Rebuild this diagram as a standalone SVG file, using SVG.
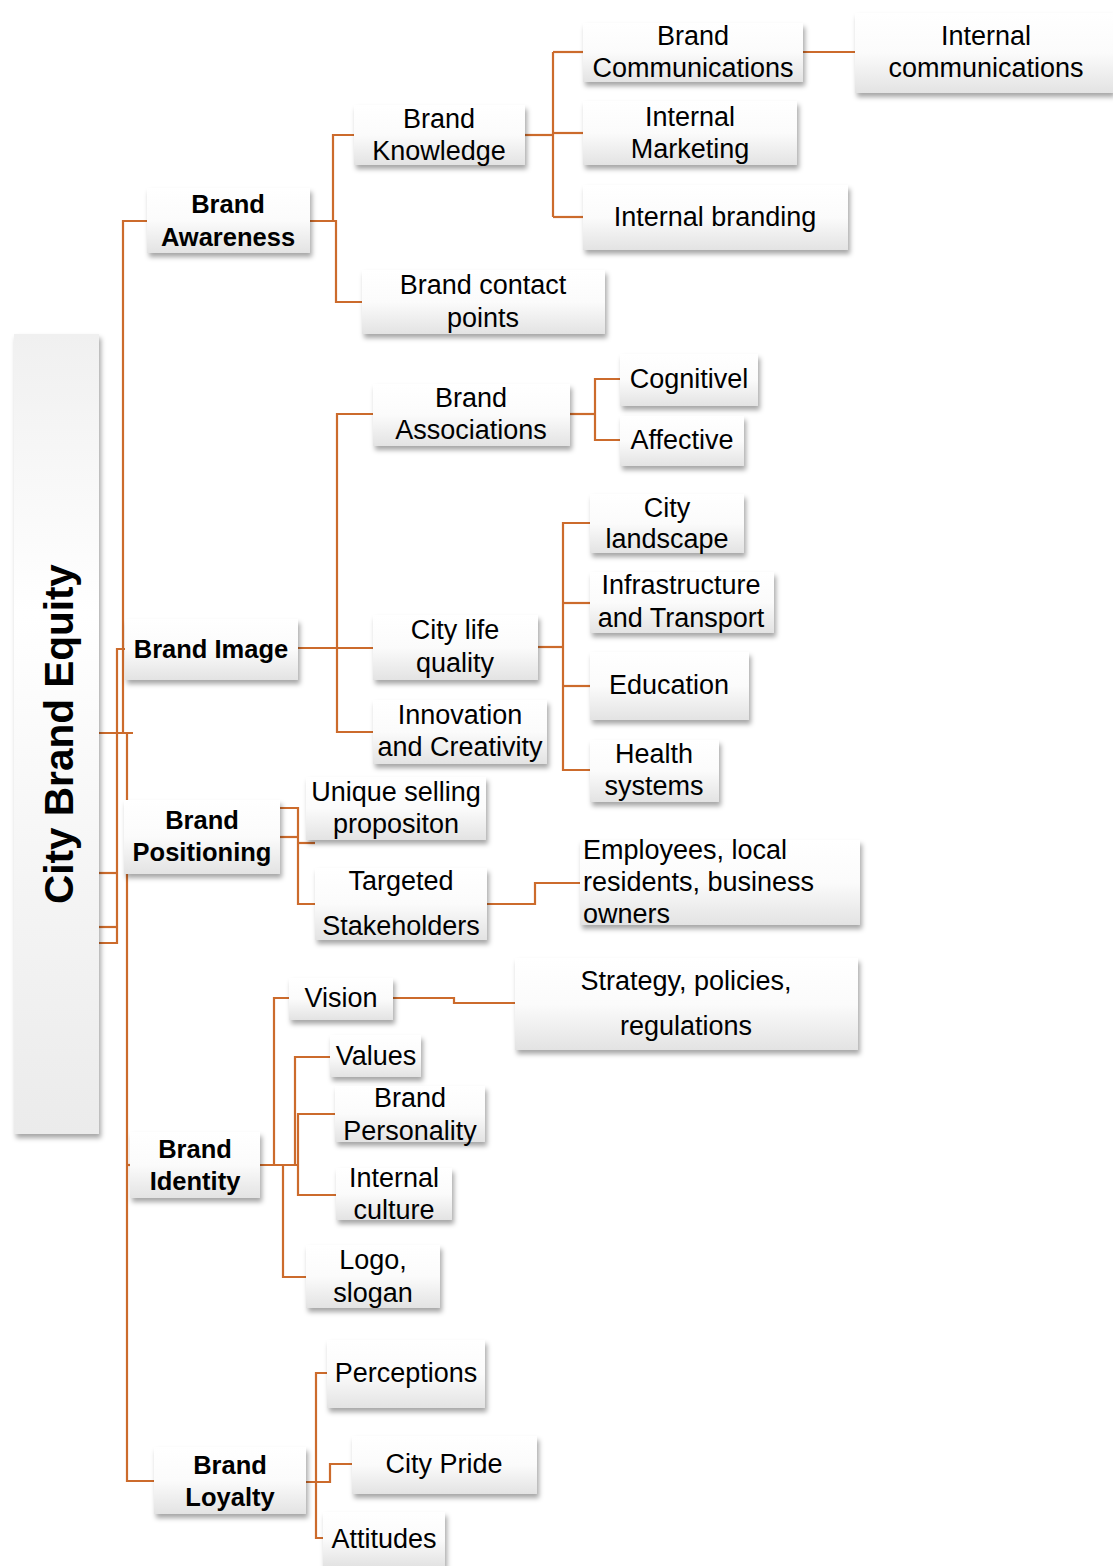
<svg xmlns="http://www.w3.org/2000/svg" width="1113" height="1566" viewBox="0 0 1113 1566">
  <defs>
    <linearGradient id="boxFill" x1="0" y1="0" x2="0" y2="1">
      <stop offset="0" stop-color="#ffffff"/>
      <stop offset="0.5" stop-color="#fbfbfb"/>
      <stop offset="1" stop-color="#e3e3e3"/>
    </linearGradient>
    <linearGradient id="rootFill" x1="0" y1="0" x2="0" y2="1">
      <stop offset="0" stop-color="#f0f0f0"/>
      <stop offset="0.35" stop-color="#ffffff"/>
      <stop offset="1" stop-color="#ebebeb"/>
    </linearGradient>
    <filter id="shadow" x="-10%" y="-10%" width="130%" height="140%">
      <feDropShadow dx="2" dy="4" stdDeviation="2.5" flood-color="#000" flood-opacity="0.35"/>
    </filter>
  </defs>
  <style>
    .box { fill: url(#boxFill); filter: url(#shadow); }
    .root { fill: url(#rootFill); filter: url(#shadow); }
    .t { font-family: "Liberation Sans", Arial, sans-serif; font-size: 27px; fill: #000; text-anchor: middle; }
    .b { font-weight: bold; font-size: 25.5px; }
    .l { text-anchor: start; }
    .title { font-weight: bold; font-size: 40.5px; }
    .links path { fill: none; stroke: #cc6b2c; stroke-width: 2.2; }
  </style>

  <rect width="1113" height="1566" fill="#ffffff"/>

  <!-- connectors -->
  <g id="connectors" class="links">
    <!-- root trunk -->
    <path d="M99 733 H133"/>
    <path d="M123 733 V221 H147"/>
    <path d="M99 873 H117"/>
    <path d="M99 927 H117"/>
    <path d="M99 943 H117 V649 H125"/>
    <path d="M127 733 V1481 H154"/>
    <path d="M127 1165 H130"/>
    <!-- brand awareness -->
    <path d="M310 221 H336 V302 H362"/>
    <path d="M333 221 V135 H354"/>
    <path d="M525 135 H553"/>
    <path d="M553 52 V217"/>
    <path d="M553 52 H583"/>
    <path d="M553 133 H583"/>
    <path d="M553 217 H583"/>
    <path d="M803 52 H855"/>
    <!-- brand image -->
    <path d="M298 648 H373"/>
    <path d="M373 414 H337 V732 H373"/>
    <path d="M570 414 H595"/>
    <path d="M620 379 H595 V440 H620"/>
    <path d="M538 647 H563"/>
    <path d="M590 523 H563 V770 H590"/>
    <path d="M563 603 H590"/>
    <path d="M563 686 H590"/>
    <!-- brand positioning -->
    <path d="M280 808 H298 V904 H315"/>
    <path d="M280 837 H298"/>
    <path d="M298 843 H315"/>
    <path d="M487 904 H535 V883 H580"/>
    <!-- brand identity -->
    <path d="M260 1165 H297"/>
    <path d="M289 998 H274 V1165"/>
    <path d="M283 1165 V1277 H306"/>
    <path d="M330 1057 H295 V1165"/>
    <path d="M335 1114 H298 V1195 H336"/>
    <path d="M393 998 H454 V1003 H515"/>
    <!-- brand loyalty -->
    <path d="M327 1373 H316 V1538 H323"/>
    <path d="M306 1482 H330 V1464 H352"/>
  </g>

  <!-- root -->
  <g id="city-brand-equity">
    <rect class="root" x="14" y="334" width="85" height="800"/>
    <text class="t title" transform="translate(73 734) rotate(-90)">City Brand Equity</text>
  </g>

  <!-- brand awareness branch -->
  <g id="brand-awareness">
    <rect class="box" x="147" y="188" width="163" height="65"/>
    <text class="t b" x="228" y="213">Brand</text>
    <text class="t b" x="228" y="246">Awareness</text>
  </g>
  <g id="brand-knowledge">
    <rect class="box" x="354" y="105" width="171" height="60"/>
    <text class="t" x="439" y="128">Brand</text>
    <text class="t" x="439" y="160">Knowledge</text>
  </g>
  <g id="brand-contact-points">
    <rect class="box" x="362" y="270" width="243" height="64"/>
    <text class="t" x="483" y="294">Brand contact</text>
    <text class="t" x="483" y="327">points</text>
  </g>
  <g id="brand-communications">
    <rect class="box" x="583" y="23" width="220" height="59"/>
    <text class="t" x="693" y="45">Brand</text>
    <text class="t" x="693" y="77">Communications</text>
  </g>
  <g id="internal-communications">
    <rect class="box" x="855" y="13" width="258" height="80"/>
    <text class="t" x="986" y="45">Internal</text>
    <text class="t" x="986" y="77">communications</text>
  </g>
  <g id="internal-marketing">
    <rect class="box" x="583" y="101" width="214" height="64"/>
    <text class="t" x="690" y="126">Internal</text>
    <text class="t" x="690" y="158">Marketing</text>
  </g>
  <g id="internal-branding">
    <rect class="box" x="583" y="185" width="265" height="65"/>
    <text class="t" x="715" y="226">Internal branding</text>
  </g>

  <!-- brand image branch -->
  <g id="brand-image">
    <rect class="box" x="125" y="619" width="173" height="61"/>
    <text class="t b" x="211" y="658">Brand Image</text>
  </g>
  <g id="brand-associations">
    <rect class="box" x="373" y="384" width="197" height="62"/>
    <text class="t" x="471" y="407">Brand</text>
    <text class="t" x="471" y="439">Associations</text>
  </g>
  <g id="cognitive">
    <rect class="box" x="620" y="354" width="138" height="52"/>
    <text class="t" x="689" y="388">Cognitivel</text>
  </g>
  <g id="affective">
    <rect class="box" x="620" y="416" width="124" height="50"/>
    <text class="t" x="682" y="449">Affective</text>
  </g>
  <g id="city-life-quality">
    <rect class="box" x="373" y="615" width="165" height="65"/>
    <text class="t" x="455" y="639">City life</text>
    <text class="t" x="455" y="672">quality</text>
  </g>
  <g id="innovation-creativity">
    <rect class="box" x="373" y="700" width="174" height="64"/>
    <text class="t" x="460" y="724">Innovation</text>
    <text class="t" x="460" y="756">and Creativity</text>
  </g>
  <g id="city-landscape">
    <rect class="box" x="590" y="494" width="154" height="59"/>
    <text class="t" x="667" y="517">City</text>
    <text class="t" x="667" y="548">landscape</text>
  </g>
  <g id="infrastructure-transport">
    <rect class="box" x="590" y="572" width="184" height="61"/>
    <text class="t" x="681" y="594">Infrastructure</text>
    <text class="t" x="681" y="627">and Transport</text>
  </g>
  <g id="education">
    <rect class="box" x="590" y="652" width="159" height="68"/>
    <text class="t" x="669" y="694">Education</text>
  </g>
  <g id="health-systems">
    <rect class="box" x="590" y="740" width="129" height="62"/>
    <text class="t" x="654" y="763">Health</text>
    <text class="t" x="654" y="795">systems</text>
  </g>

  <!-- brand positioning branch -->
  <g id="brand-positioning">
    <rect class="box" x="124" y="800" width="156" height="74"/>
    <text class="t b" x="202" y="829">Brand</text>
    <text class="t b" x="202" y="861">Positioning</text>
  </g>
  <g id="unique-selling-proposition">
    <rect class="box" x="306" y="777" width="180" height="63"/>
    <text class="t" x="396" y="801">Unique selling</text>
    <text class="t" x="396" y="833">propositon</text>
  </g>
  <g id="targeted-stakeholders">
    <rect class="box" x="315" y="868" width="172" height="72"/>
    <text class="t" x="401" y="890">Targeted</text>
    <text class="t" x="401" y="935">Stakeholders</text>
  </g>
  <g id="stakeholder-groups">
    <rect class="box" x="580" y="840" width="280" height="85"/>
    <text class="t l" x="583" y="859">Employees, local</text>
    <text class="t l" x="583" y="891">residents, business</text>
    <text class="t l" x="583" y="923">owners</text>
  </g>

  <!-- brand identity branch -->
  <g id="brand-identity">
    <rect class="box" x="130" y="1132" width="130" height="66"/>
    <text class="t b" x="195" y="1158">Brand</text>
    <text class="t b" x="195" y="1190">Identity</text>
  </g>
  <g id="vision">
    <rect class="box" x="289" y="978" width="104" height="42"/>
    <text class="t" x="341" y="1007">Vision</text>
  </g>
  <g id="strategy-policies">
    <rect class="box" x="515" y="958" width="343" height="92"/>
    <text class="t" x="686" y="990">Strategy, policies,</text>
    <text class="t" x="686" y="1035">regulations</text>
  </g>
  <g id="values">
    <rect class="box" x="330" y="1035" width="91" height="42"/>
    <text class="t" x="376" y="1065">Values</text>
  </g>
  <g id="brand-personality">
    <rect class="box" x="335" y="1086" width="150" height="56"/>
    <text class="t" x="410" y="1107">Brand</text>
    <text class="t" x="410" y="1140">Personality</text>
  </g>
  <g id="internal-culture">
    <rect class="box" x="336" y="1168" width="116" height="52"/>
    <text class="t" x="394" y="1187">Internal</text>
    <text class="t" x="394" y="1219">culture</text>
  </g>
  <g id="logo-slogan">
    <rect class="box" x="306" y="1245" width="134" height="63"/>
    <text class="t" x="373" y="1269">Logo,</text>
    <text class="t" x="373" y="1302">slogan</text>
  </g>

  <!-- brand loyalty branch -->
  <g id="brand-loyalty">
    <rect class="box" x="154" y="1447" width="152" height="67"/>
    <text class="t b" x="230" y="1474">Brand</text>
    <text class="t b" x="230" y="1506">Loyalty</text>
  </g>
  <g id="perceptions">
    <rect class="box" x="327" y="1340" width="158" height="68"/>
    <text class="t" x="406" y="1382">Perceptions</text>
  </g>
  <g id="city-pride">
    <rect class="box" x="352" y="1436" width="185" height="58"/>
    <text class="t" x="444" y="1473">City Pride</text>
  </g>
  <g id="attitudes">
    <rect class="box" x="323" y="1512" width="122" height="54"/>
    <text class="t" x="384" y="1548">Attitudes</text>
  </g>
</svg>
